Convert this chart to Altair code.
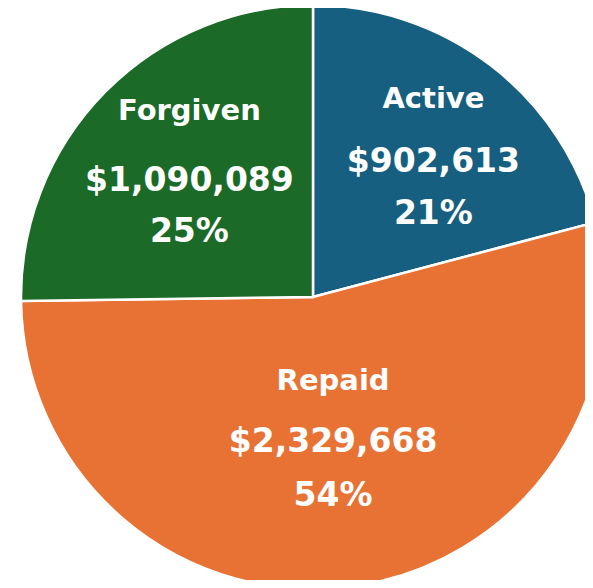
import altair as alt
import pandas as pd

categories = ["Active", "Repaid", "Forgiven"]
amounts = [902613, 2329668, 1090089]
colors = ["#175f80", "#e87234", "#1c6a27"]

df = pd.DataFrame({"category": categories, "amount": amounts, "order": list(range(len(categories)))})

CX, CY, R = 305, 289, 292
FONT = "DejaVu Sans"

base = alt.Chart(df)

pie = base.mark_arc(radius=R, stroke="white", strokeWidth=2.5, clip=True).encode(
    theta=alt.Theta("amount:Q", stack=True),
    color=alt.Color("category:N", scale=alt.Scale(domain=categories, range=colors), legend=None),
    order=alt.Order("order:Q"),
    x=alt.value(CX),
    y=alt.value(CY),
)

# label placement style per category: radius, dx, dy, name offset
label_style = {
    "Active": dict(r=181, dx=10, dy=8, name_off=-63, pct_off=52),
    "Repaid": dict(r=148, dx=0, dy=-2, name_off=-61, pct_off=54),
    "Forgiven": dict(r=168, dx=-4, dy=2, name_off=-70, pct_off=51),
}

prep = (
    base.transform_joinaggregate(total="sum(amount)")
    .transform_window(cum="sum(amount)", sort=[alt.SortField("order")], frame=[None, 0])
    .transform_calculate(
        mid="2*PI*(datum.cum - datum.amount/2)/datum.total",
        frac="datum.amount/datum.total",
    )
)

layers = [pie]
for cat in categories:
    s = label_style[cat]
    sub = prep.transform_filter(alt.datum.category == cat)
    enc = dict(theta=alt.Theta("mid:Q", scale=None), x=alt.value(CX), y=alt.value(CY))
    layers.append(
        sub.mark_text(radius=s["r"], dx=s["dx"], dy=s["dy"] + s["name_off"], font=FONT,
                      fontWeight="bold", fontSize=29, color="white", baseline="middle", align="center")
        .encode(text=alt.Text("category:N"), **enc)
    )
    layers.append(
        sub.mark_text(radius=s["r"], dx=s["dx"], dy=s["dy"], font=FONT,
                      fontWeight="bold", fontSize=33, color="white", baseline="middle", align="center")
        .encode(text=alt.Text("amount:Q", format="$,.0f"), **enc)
    )
    layers.append(
        sub.mark_text(radius=s["r"], dx=s["dx"], dy=s["dy"] + s["pct_off"], font=FONT,
                      fontWeight="bold", fontSize=33, color="white", baseline="middle", align="center")
        .encode(text=alt.Text("frac:Q", format=".0%"), **enc)
    )

chart = (
    alt.layer(*layers)
    .properties(width=577, height=572, padding=0, background="white")
    .configure_view(strokeWidth=0)
)

chart.save("out.html", embed_options={"renderer": "svg", "actions": False})
